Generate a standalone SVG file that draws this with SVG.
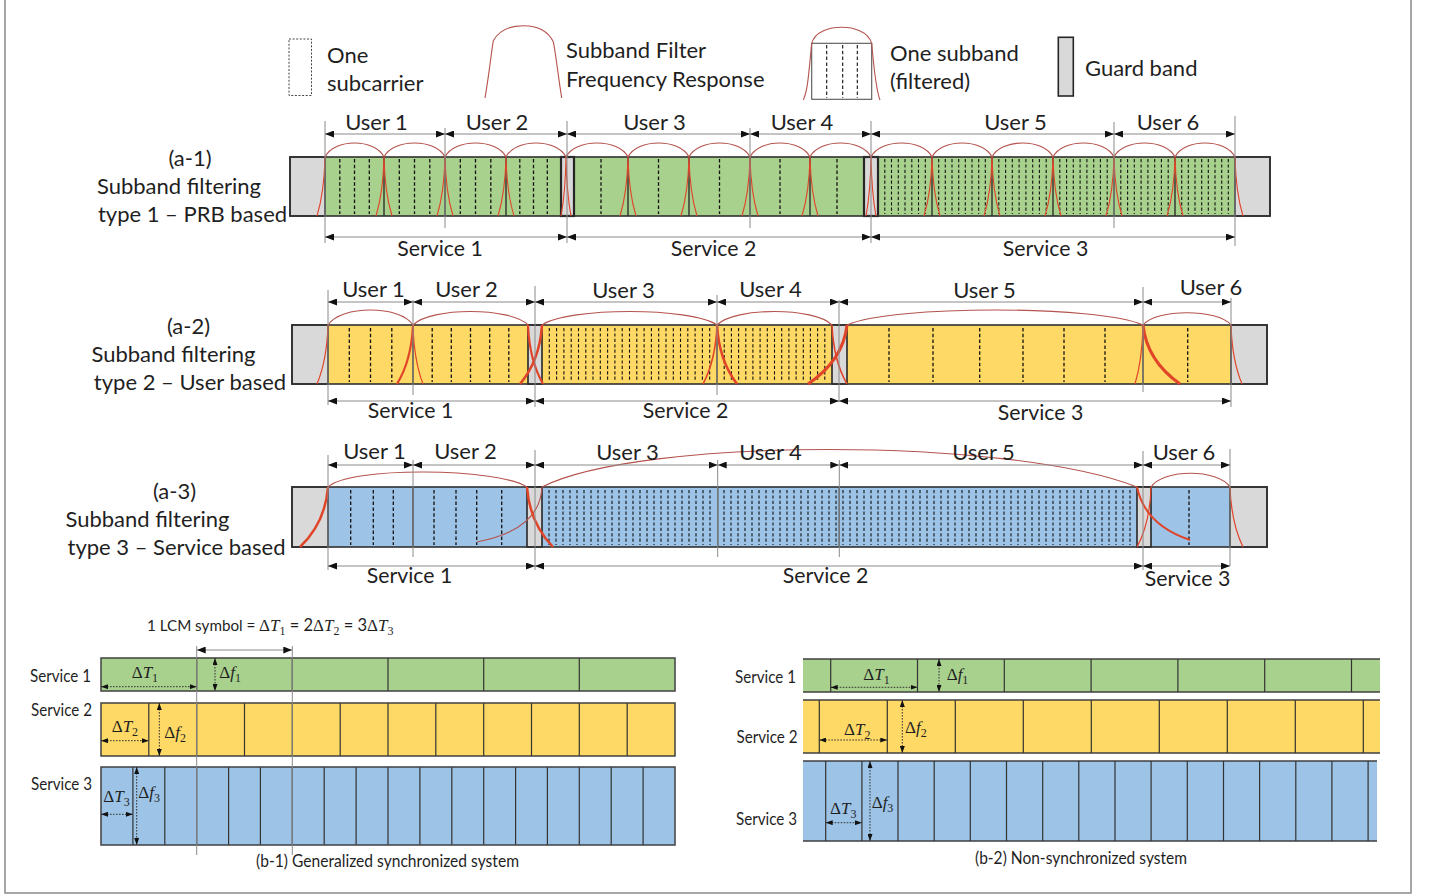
<svg xmlns="http://www.w3.org/2000/svg" xmlns:xlink="http://www.w3.org/1999/xlink" width="1429" height="895" viewBox="0 0 1429 895">
<style>
.t{font-family:Lato,"Liberation Sans",sans-serif;font-size:22px;fill:#1f1f1f}
.tm{text-anchor:middle}
.sv{font-size:21.3px}
.s{font-family:Lato,"Liberation Sans",sans-serif;font-size:16.5px;fill:#1f1f1f}
.m{font-family:"Liberation Serif","DejaVu Serif",serif;font-size:17px;fill:#1f1f1f}
.it{font-style:italic}
.sb{font-size:12px}
.gr{fill:#a9d18e}
.ye{fill:#ffd966}
.bl{fill:#9dc3e6}
.gd{fill:#d9d9d9;stroke:#262626;stroke-width:1.6}
.ol{fill:none;stroke:#303030;stroke-width:1.6}
.sep{stroke:#262626;stroke-width:1.3;fill:none}
.dsh{stroke:#111;stroke-width:1.3;stroke-dasharray:3.5 2.3;fill:none}
.dsn{stroke:#111;stroke-width:1.1;stroke-dasharray:3.2 2.2;fill:none}
.arc{fill:none;stroke:#b5534e;stroke-width:1.1}
.sk{fill:none;stroke:#e0452a}
.tick{stroke:#8a8a8a;stroke-width:1;fill:none}
.dim{stroke:#8a8a8a;stroke-width:1;marker-start:url(#ah);marker-end:url(#ah)}
.dm{stroke:#333;stroke-width:1;stroke-dasharray:1.6 1.4;marker-start:url(#as);marker-end:url(#as)}
.bsep{stroke:#333;stroke-width:1.2;fill:none}
.bol{fill:none;stroke:#404040;stroke-width:1.5}
</style>
<defs>
<marker id="ah" viewBox="0 0 9 7" refX="9" refY="3.5" markerWidth="9" markerHeight="7" markerUnits="userSpaceOnUse" orient="auto-start-reverse"><path d="M0 0L9 3.5L0 7z" fill="#111"/></marker>
<marker id="as" viewBox="0 0 7 5" refX="7" refY="2.5" markerWidth="7" markerHeight="5" markerUnits="userSpaceOnUse" orient="auto-start-reverse"><path d="M0 0L7 2.5L0 5z" fill="#111"/></marker>
<path id="sk1" d="M0 0Q-0.8 35.4 -8 59M0 0Q0.8 35.4 8 59"/>
</defs>
<rect width="1429" height="895" fill="#fff"/>
<path d="M5 0V893H1411V0" fill="none" stroke="#8a8a8a" stroke-width="1.5"/>

<g id="legend">
<rect x="289" y="39" width="22.5" height="56.5" fill="none" stroke="#444" stroke-width="1" stroke-dasharray="2 1.6"/>
<text class="t" x="327" y="63">One</text>
<text class="t" x="327" y="91">subcarrier</text>
<path d="M485 98C489 75 491 55 493.3 40.7C500 29 512 25.7 523.3 25.7C535 25.7 547 29 553.3 41.7C556 55 558 75 561.7 98" class="arc"/>
<text class="t" x="566" y="58">Subband Filter</text>
<text class="t" x="566" y="87">Frequency Response</text>
<rect x="811.7" y="43.3" width="60" height="56" fill="#fff" stroke="#555" stroke-width="1.1"/>
<path class="dsh" style="stroke-width:1.1" d="M826.7 45v53M842.7 45v53M857.3 45v53"/>
<path class="arc" d="M811.7 43.3C815 31 830 27.3 841.7 27.3C853 27.3 868 31 871.7 43.3M811.7 43.3C809 70 808 90 803.3 100M871.7 43.3C874 70 876 90 880 100"/>
<text class="t" x="890" y="61">One subband</text>
<text class="t" x="890" y="89">(filtered)</text>
<rect x="1058.3" y="37.3" width="15" height="58.7" class="gd"/>
<text class="t" x="1085" y="76">Guard band</text>
</g>

<g id="label-a1">
<text class="t tm" x="190" y="166">(a-1)</text>
<text class="t tm" x="179" y="194">Subband filtering</text>
<text class="t tm" x="192.5" y="222">type 1 – PRB based</text>
</g>
<g id="label-a2">
<text class="t tm" x="188.5" y="334">(a-2)</text>
<text class="t tm" x="173.5" y="362">Subband filtering</text>
<text class="t tm" x="190" y="390">type 2 – User based</text>
</g>
<g id="label-a3">
<text class="t tm" x="174.5" y="499">(a-3)</text>
<text class="t tm" x="147.5" y="527">Subband filtering</text>
<text class="t tm" x="176.5" y="555">type 3 – Service based</text>
</g>

<g id="row-a1">
<rect x="325" y="157" width="236" height="59" class="gr"/>
<rect x="574" y="157" width="290" height="59" class="gr"/>
<rect x="878" y="157" width="357" height="59" class="gr"/>
<path class="dsh" d="M339.8 159v55M354.5 159v55M369.3 159v55M399.3 159v55M414.5 159v55M429.8 159v55M460.3 159v55M475.5 159v55M490.8 159v55M519.8 159v55M533.5 159v55M547.3 159v55M601 159v55M658.5 159v55M719.5 159v55M780 159v55M837 159v55"/>
<path class="dsn" d="M884.8 159v55M891.5 159v55M898.3 159v55M905 159v55M911.8 159v55M918.5 159v55M925.3 159v55M938.7 159v55M945.3 159v55M952 159v55M958.7 159v55M965.3 159v55M972 159v55M978.7 159v55M985.3 159v55M998.8 159v55M1005.6 159v55M1012.3 159v55M1019.1 159v55M1025.9 159v55M1032.7 159v55M1039.4 159v55M1046.2 159v55M1059.8 159v55M1066.6 159v55M1073.3 159v55M1080.1 159v55M1086.9 159v55M1093.7 159v55M1100.4 159v55M1107.2 159v55M1120.8 159v55M1127.6 159v55M1134.3 159v55M1141.1 159v55M1147.9 159v55M1154.7 159v55M1161.4 159v55M1168.2 159v55M1181.7 159v55M1188.3 159v55M1195 159v55M1201.7 159v55M1208.3 159v55M1215 159v55M1221.7 159v55M1228.3 159v55"/>
<path class="sep" d="M384 157v59M445 157v59M506 157v59M628 157v59M689 157v59M750 157v59M810 157v59M932 157v59M992 157v59M1053 157v59M1114 157v59M1175 157v59"/>
<rect x="290" y="157" width="35" height="59" class="gd"/>
<rect x="561" y="157" width="13" height="59" class="gd" style="stroke-width:2.2"/>
<rect x="864" y="157" width="14" height="59" class="gd" style="stroke-width:2.2"/>
<rect x="1235" y="157" width="35" height="59" class="gd"/>
<rect x="290" y="157" width="980" height="59" class="ol"/>
<path class="arc" d="M325 157C334 138.3 375 138.3 384 157M384 157C393 138.3 436 138.3 445 157M445 157C454 138.3 497 138.3 506 157M506 157C515 138.3 557 138.3 566 157M566 157C575 138.3 619 138.3 628 157M628 157C637 138.3 680 138.3 689 157M689 157C698 138.3 741 138.3 750 157M750 157C759 138.3 801 138.3 810 157M810 157C819 138.3 862 138.3 871 157M871 157C880 138.3 923 138.3 932 157M932 157C941 138.3 983 138.3 992 157M992 157C1001 138.3 1044 138.3 1053 157M1053 157C1062 138.3 1105 138.3 1114 157M1114 157C1123 138.3 1166 138.3 1175 157M1175 157C1184 138.3 1226 138.3 1235 157"/>
<g class="sk" stroke-width="1.1">
<path d="M325 157Q324.2 192.4 317 216"/>
<use xlink:href="#sk1" x="384" y="157"/><use xlink:href="#sk1" x="445" y="157"/><use xlink:href="#sk1" x="506" y="157"/>
<path d="M566 157Q565.4 192.4 561 216M566 157Q566.6 192.4 571 216"/>
<use xlink:href="#sk1" x="628" y="157"/><use xlink:href="#sk1" x="689" y="157"/><use xlink:href="#sk1" x="750" y="157"/><use xlink:href="#sk1" x="810" y="157"/>
<path d="M871 157Q870.4 192.4 866 216M871 157Q871.6 192.4 876 216"/>
<use xlink:href="#sk1" x="932" y="157"/><use xlink:href="#sk1" x="992" y="157"/><use xlink:href="#sk1" x="1053" y="157"/><use xlink:href="#sk1" x="1114" y="157"/><use xlink:href="#sk1" x="1175" y="157"/>
<path d="M1235 157Q1235.8 192.4 1243 216"/>
</g>
<text class="t tm" x="376.5" y="129.5">User 1</text>
<text class="t tm" x="497" y="129.5">User 2</text>
<text class="t tm" x="654.5" y="130">User 3</text>
<text class="t tm" x="802" y="129.5">User 4</text>
<text class="t tm" x="1015.5" y="130">User 5</text>
<text class="t tm" x="1168" y="129.5">User 6</text>
<text class="t tm sv" x="440" y="256">Service 1</text>
<text class="t tm sv" x="713.5" y="256">Service 2</text>
<text class="t tm sv" x="1045.5" y="256">Service 3</text>
</g>

<g id="row-a2">
<rect x="328" y="325" width="200" height="59" class="ye"/>
<rect x="542" y="325" width="290" height="59" class="ye"/>
<rect x="847" y="325" width="384" height="59" class="ye"/>
<path class="dsh" d="M349.3 328v54M370.5 328v54M391.8 328v54M432.2 328v54M451.3 328v54M470.5 328v54M489.7 328v54M508.8 328v54M889 328v54M933 328v54M979.7 328v54M1023 328v54M1064 328v54M1105 328v54M1187.7 328v54"/>
<path class="dsn" d="M549.3 328v54M556.6 328v54M563.9 328v54M571.2 328v54M578.5 328v54M585.8 328v54M593 328v54M600.3 328v54M607.6 328v54M614.9 328v54M622.2 328v54M629.5 328v54M636.8 328v54M644.1 328v54M651.4 328v54M658.7 328v54M666 328v54M673.3 328v54M680.5 328v54M687.8 328v54M695.1 328v54M702.4 328v54M709.7 328v54M724.2 328v54M731.4 328v54M738.6 328v54M745.8 328v54M752.9 328v54M760.1 328v54M767.3 328v54M774.5 328v54M781.7 328v54M788.9 328v54M796.1 328v54M803.3 328v54M810.4 328v54M817.6 328v54M824.8 328v54"/>
<path class="sep" d="M413 325v59M717 325v59M1143 325v59"/>
<rect x="292" y="325" width="36" height="59" class="gd"/>
<rect x="528" y="325" width="14" height="59" class="gd"/>
<rect x="832" y="325" width="15" height="59" class="gd"/>
<rect x="1231" y="325" width="36" height="59" class="gd"/>
<rect x="292" y="325" width="975" height="59" class="ol"/>
<path class="arc" d="M328 325C340.8 305 400.2 305 413 325M413 325C430.3 307 510.8 307 528 325M542 325C568.3 307 690.8 307 717 325M717 325C734.3 307 814.8 307 832 325M847 325C891.4 305 1098.6 305 1143 325M1143 325C1156.2 308.6 1217.8 308.6 1231 325"/>
<path class="sk" stroke-width="1.2" d="M328 325Q326.9 360.4 317 384M413 325Q414 360.4 423 384M1143 325Q1142.2 360.4 1135 384M1231 325Q1232.1 360.4 1242 384"/>
<path class="sk" stroke-width="1.6" d="M717 325Q715.6 360.4 703 384M832 325Q833.5 360.4 847 384"/>
<path class="sk" stroke-width="2.2" d="M413 325Q411.4 360.4 397 384M528 325Q529.5 360.4 543 384"/>
<path class="sk" stroke-width="2.6" d="M542 325Q539.8 360.4 520 384M717 325Q719 360.4 737 384"/>
<path class="sk" stroke-width="3" d="M847 325Q843.1 360.4 808 384M1143 325Q1146.7 360.4 1180 384"/>
<text class="t tm" x="373.5" y="297">User 1</text>
<text class="t tm" x="466.5" y="297">User 2</text>
<text class="t tm" x="623.5" y="298">User 3</text>
<text class="t tm" x="770.5" y="297">User 4</text>
<text class="t tm" x="984.5" y="298">User 5</text>
<text class="t tm" x="1211" y="295">User 6</text>
<text class="t tm sv" x="410.5" y="418">Service 1</text>
<text class="t tm sv" x="685.5" y="418">Service 2</text>
<text class="t tm sv" x="1040.5" y="420">Service 3</text>
</g>

<g id="row-a3">
<rect x="328" y="487" width="199" height="60" class="bl"/>
<rect x="542" y="487" width="595" height="60" class="bl"/>
<rect x="1151" y="487" width="79" height="60" class="bl"/>
<path class="dsh" d="M350.7 490v55M373.3 490v55M393.3 490v55M434 490v55M456 490v55M476.7 490v55M501.7 490v55M1189 490v55"/>
<path class="dsn" d="M549 490v55M556 490v55M563 490v55M570 490v55M577 490v55M584 490v55M591 490v55M598 490v55M605 490v55M612 490v55M619 490v55M626 490v55M633 490v55M640 490v55M647 490v55M654 490v55M661 490v55M668 490v55M675 490v55M682 490v55M689 490v55M696 490v55M703 490v55M710 490v55M724 490v55M731 490v55M738 490v55M745 490v55M752 490v55M759 490v55M766 490v55M773 490v55M780 490v55M787 490v55M794 490v55M801 490v55M808 490v55M815 490v55M822 490v55M829 490v55M836 490v55M843 490v55M850 490v55M857 490v55M864 490v55M871 490v55M878 490v55M885 490v55M892 490v55M899 490v55M906 490v55M913 490v55M920 490v55M927 490v55M934 490v55M941 490v55M948 490v55M955 490v55M962 490v55M969 490v55M976 490v55M983 490v55M990 490v55M997 490v55M1004 490v55M1011 490v55M1018 490v55M1025 490v55M1032 490v55M1039 490v55M1046 490v55M1053 490v55M1060 490v55M1067 490v55M1074 490v55M1081 490v55M1088 490v55M1095 490v55M1102 490v55M1109 490v55M1116 490v55M1123 490v55M1130 490v55"/>
<path class="sep" d="M413 487v60M717.7 487v60M839.3 487v60"/>
<rect x="292" y="487" width="36" height="60" class="gd"/>
<rect x="527" y="487" width="15" height="60" class="gd"/>
<rect x="1137" y="487" width="14" height="60" class="gd"/>
<rect x="1230" y="487" width="37" height="60" class="gd"/>
<rect x="292" y="487" width="975" height="60" class="ol"/>
<path class="arc" d="M328 487C350 466 497 467.9 527 487M542 487C640 437 1010 437 1137 487M1151 487C1162.9 468.7 1218.1 468.7 1230 487"/>
<path class="arc" stroke-width="1.2" d="M542 487Q540 530 477 542"/>
<path class="sk" stroke-width="1.2" d="M1151 487Q1150 523 1137 547M1230 487Q1231.3 523 1243 547"/>
<path class="sk" stroke-width="2" d="M1137 487Q1145 525 1190 540"/>
<path class="sk" stroke-width="2.5" d="M328 487Q325.2 523 300 547M527 487Q529.6 523 553 547"/>
<text class="t tm" x="374.5" y="459">User 1</text>
<text class="t tm" x="465.5" y="459">User 2</text>
<text class="t tm" x="627.5" y="460">User 3</text>
<text class="t tm" x="770.5" y="460">User 4</text>
<text class="t tm" x="983.5" y="460">User 5</text>
<text class="t tm" x="1184" y="460">User 6</text>
<text class="t tm sv" x="409.5" y="583">Service 1</text>
<text class="t tm sv" x="825.5" y="583">Service 2</text>
<text class="t tm sv" x="1187.5" y="586">Service 3</text>
</g>

<g id="connectors">
<path class="tick" d="M325 121V243M445 128V228M567 121V243M750 128V228M871 121V243M1114 122V228M1235 116V246"/>
<path class="tick" d="M328 290V405M413 300V395M535 286V407M717 295V395M839 300V402M1143 287V392M1231 298V407"/>
<path class="tick" d="M328 455V570M413 460V557M535 450V570M717.7 460V557M839.3 460V557M1143 451V570M1230 449V566"/>
<line class="dim" x1="325" y1="134" x2="445" y2="134"/><line class="dim" x1="445" y1="134" x2="567" y2="134"/><line class="dim" x1="567" y1="134" x2="750" y2="134"/><line class="dim" x1="750" y1="134" x2="871" y2="134"/><line class="dim" x1="871" y1="134" x2="1114" y2="134"/><line class="dim" x1="1114" y1="134" x2="1235" y2="134"/>
<line class="dim" x1="325" y1="237" x2="567" y2="237"/><line class="dim" x1="567" y1="237" x2="871" y2="237"/><line class="dim" x1="871" y1="237" x2="1235" y2="237"/>
<line class="dim" x1="328" y1="302" x2="413" y2="302"/><line class="dim" x1="413" y1="302" x2="535" y2="302"/><line class="dim" x1="535" y1="302" x2="717" y2="302"/><line class="dim" x1="717" y1="302" x2="839" y2="302"/><line class="dim" x1="839" y1="302" x2="1143" y2="302"/><line class="dim" x1="1143" y1="302" x2="1231" y2="302"/>
<line class="dim" x1="328" y1="401" x2="535" y2="401"/><line class="dim" x1="535" y1="401" x2="839" y2="401"/><line class="dim" x1="839" y1="401" x2="1231" y2="401"/>
<line class="dim" x1="328" y1="465" x2="413" y2="465"/><line class="dim" x1="413" y1="465" x2="535" y2="465"/><line class="dim" x1="535" y1="465" x2="717.7" y2="465"/><line class="dim" x1="717.7" y1="465" x2="839.3" y2="465"/><line class="dim" x1="839.3" y1="465" x2="1143" y2="465"/><line class="dim" x1="1143" y1="465" x2="1230" y2="465"/>
<line class="dim" x1="328" y1="566" x2="535" y2="566"/><line class="dim" x1="535" y1="566" x2="1143" y2="566"/><line class="dim" x1="1143" y1="566" x2="1230" y2="566"/>
</g>

<g id="b1">
<rect x="101" y="658" width="574" height="33" class="gr"/>
<rect x="101" y="703" width="574" height="53" class="ye"/>
<rect x="101" y="767" width="574" height="78" class="bl"/>
<path class="bsep" d="M196.7 658v33M292.3 658v33M388 658v33M483.7 658v33M579.3 658v33"/>
<path class="bsep" d="M148.8 703v53M196.7 703v53M244.5 703v53M292.3 703v53M340.2 703v53M388 703v53M435.8 703v53M483.7 703v53M531.5 703v53M579.3 703v53M627.2 703v53"/>
<path class="bsep" d="M132.9 767v78M164.8 767v78M196.7 767v78M228.6 767v78M260.4 767v78M292.3 767v78M324.2 767v78M356.1 767v78M388 767v78M419.9 767v78M451.8 767v78M483.7 767v78M515.6 767v78M547.4 767v78M579.3 767v78M611.2 767v78M643.1 767v78"/>
<rect x="101" y="658" width="574" height="33" class="bol"/>
<rect x="101" y="703" width="574" height="53" class="bol"/>
<rect x="101" y="767" width="574" height="78" class="bol"/>
<path class="tick" d="M196.7 646V855M292.3 646V855"/>
<line class="dim" x1="196.7" y1="650" x2="292.3" y2="650"/>
<line class="dm" x1="101" y1="686.7" x2="196.7" y2="686.7"/>
<line class="dm" x1="215" y1="658" x2="215" y2="691"/>
<line class="dm" x1="101" y1="740.7" x2="148.8" y2="740.7"/>
<line class="dm" x1="159.3" y1="703" x2="159.3" y2="756"/>
<line class="dm" x1="101" y1="814.3" x2="132.9" y2="814.3"/>
<line class="dm" x1="136.7" y1="767" x2="136.7" y2="845"/>
<text class="s" x="147" y="631" style="font-size:15.2px">1 LCM symbol =</text>
<text class="m" x="259" y="631">Δ<tspan class="it">T</tspan><tspan class="sb" dy="4">1</tspan><tspan class="s" dy="-4"> = 2</tspan>Δ<tspan class="it">T</tspan><tspan class="sb" dy="4">2</tspan><tspan class="s" dy="-4"> = 3</tspan>Δ<tspan class="it">T</tspan><tspan class="sb" dy="4">3</tspan></text>
<text class="m" x="131.7" y="678.3">Δ<tspan class="it">T</tspan><tspan class="sb" dy="4">1</tspan></text>
<text class="m" x="219.3" y="678">Δ<tspan class="it">f</tspan><tspan class="sb" dy="4">1</tspan></text>
<text class="m" x="111.7" y="731.7">Δ<tspan class="it">T</tspan><tspan class="sb" dy="4">2</tspan></text>
<text class="m" x="164.3" y="738">Δ<tspan class="it">f</tspan><tspan class="sb" dy="4">2</tspan></text>
<text class="m" x="103.3" y="801.7">Δ<tspan class="it">T</tspan><tspan class="sb" dy="4">3</tspan></text>
<text class="m" x="138.3" y="797.7">Δ<tspan class="it">f</tspan><tspan class="sb" dy="4">3</tspan></text>
<text class="s" x="30" y="682" textLength="61" lengthAdjust="spacingAndGlyphs">Service 1</text>
<text class="s" x="31" y="716" textLength="61" lengthAdjust="spacingAndGlyphs">Service 2</text>
<text class="s" x="31" y="790" textLength="61" lengthAdjust="spacingAndGlyphs">Service 3</text>
<text class="s" x="256" y="867" textLength="263" lengthAdjust="spacingAndGlyphs">(b-1) Generalized synchronized system</text>
</g>

<g id="b2">
<rect x="803" y="659" width="577" height="33" class="gr"/>
<rect x="803" y="700" width="577" height="53" class="ye"/>
<rect x="803" y="761" width="574" height="80" class="bl"/>
<path class="bol" d="M803 659H1380M803 692H1380M803 700H1380M803 753H1380M803 761H1377M803 841H1377"/>
<path class="bsep" d="M830.7 659v33M917.5 659v33M1004.3 659v33M1091.1 659v33M1177.9 659v33M1264.7 659v33M1351.5 659v33"/>
<path class="bsep" d="M819.3 700v53M887.3 700v53M955.3 700v53M1023.3 700v53M1091.3 700v53M1159.3 700v53M1227.3 700v53M1295.3 700v53M1363.3 700v53"/>
<path class="bsep" d="M825.7 761v80M861.9 761v80M898 761v80M934.2 761v80M970.3 761v80M1006.5 761v80M1042.7 761v80M1078.8 761v80M1115 761v80M1151.1 761v80M1187.3 761v80M1223.5 761v80M1259.6 761v80M1295.8 761v80M1331.9 761v80M1368.1 761v80"/>
<line class="dm" x1="830.7" y1="687.3" x2="917.5" y2="687.3"/>
<line class="dm" x1="939" y1="659" x2="939" y2="692"/>
<line class="dm" x1="819.3" y1="740" x2="887.3" y2="740"/>
<line class="dm" x1="902.3" y1="700" x2="902.3" y2="753"/>
<line class="dm" x1="825.7" y1="822.7" x2="861.9" y2="822.7"/>
<line class="dm" x1="870" y1="761" x2="870" y2="841"/>
<text class="m" x="863.3" y="680">Δ<tspan class="it">T</tspan><tspan class="sb" dy="4">1</tspan></text>
<text class="m" x="946.7" y="680">Δ<tspan class="it">f</tspan><tspan class="sb" dy="4">1</tspan></text>
<text class="m" x="844" y="735">Δ<tspan class="it">T</tspan><tspan class="sb" dy="4">2</tspan></text>
<text class="m" x="905" y="733.3">Δ<tspan class="it">f</tspan><tspan class="sb" dy="4">2</tspan></text>
<text class="m" x="830" y="814">Δ<tspan class="it">T</tspan><tspan class="sb" dy="4">3</tspan></text>
<text class="m" x="871.7" y="808.3">Δ<tspan class="it">f</tspan><tspan class="sb" dy="4">3</tspan></text>
<text class="s" x="735" y="683" textLength="61" lengthAdjust="spacingAndGlyphs">Service 1</text>
<text class="s" x="736.5" y="743" textLength="61" lengthAdjust="spacingAndGlyphs">Service 2</text>
<text class="s" x="736" y="825" textLength="61" lengthAdjust="spacingAndGlyphs">Service 3</text>
<text class="s" x="975" y="864" textLength="212" lengthAdjust="spacingAndGlyphs">(b-2) Non-synchronized system</text>
</g>
</svg>
